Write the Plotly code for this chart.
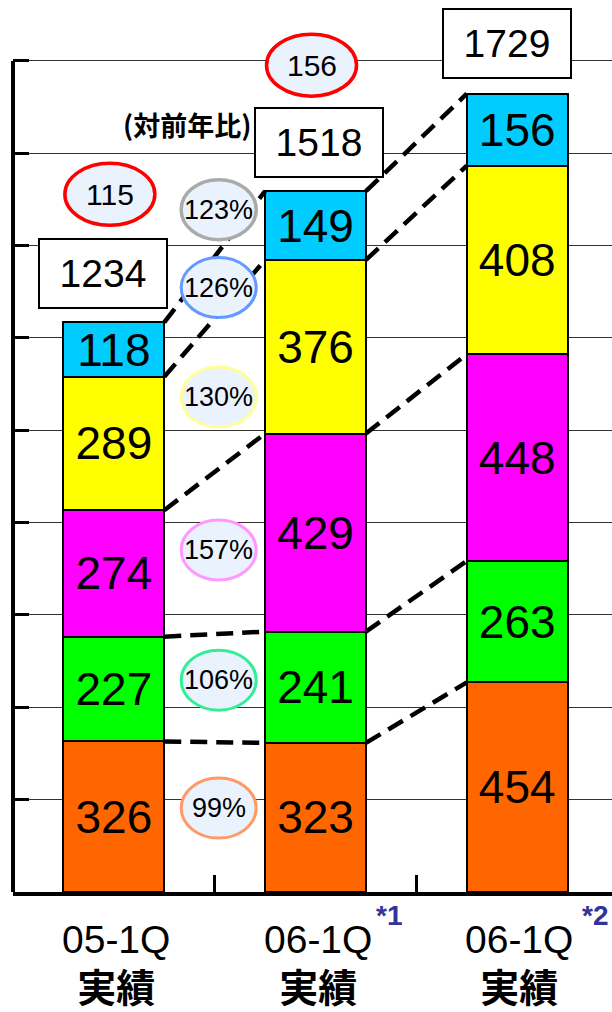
import plotly.graph_objects as go

# ---------------- data ----------------
categories = ["05-1Q", "06-1Q", "06-1Q"]
category_sub = ["実績", "実績", "実績"]
category_notes = ["", "*1", "*2"]

# segments, bottom -> top
orange = [326, 323, 454]
green = [227, 241, 263]
magenta = [274, 429, 448]
yellow = [289, 376, 408]
cyan = [118, 149, 156]
totals = [1234, 1518, 1729]

yoy_segment_pct = ["99%", "106%", "157%", "130%", "126%"]  # bottom -> top
yoy_total_pct = "123%"
red_marks = ["115", "156"]
yoy_title = "(対前年比)"

y_ticks = [0, 200, 400, 600, 800, 1000, 1200, 1400, 1600, 1800]

# ---------------- styles ----------------
segments = [orange, green, magenta, yellow, cyan]
seg_colors = ["#ff6600", "#00ff00", "#ff00ff", "#ffff00", "#00ccff"]
ring_colors = ["#ff9966", "#33ee99", "#ff99ff", "#ffff99", "#6699ff"]
total_ring_color = "#aaaaaa"
ring_fill = "#eaf3fd"
SANS = "Liberation Sans, Arial, sans-serif"
CJK = "Noto Sans CJK JP, sans-serif"

x = list(range(len(categories)))
BAR_W = 0.5

fig = go.Figure()

for vals, col in zip(segments, seg_colors):
    fig.add_trace(go.Bar(
        x=x, y=vals, width=BAR_W,
        marker=dict(color=col, line=dict(color="black", width=2)),
        text=[str(v) for v in vals], textposition="inside",
        insidetextanchor="middle",
        textfont=dict(family=SANS, size=46, color="black"),
        hoverinfo="skip", showlegend=False,
    ))

# cumulative boundaries
cum = []
run = [0] * len(x)
for vals in segments:
    run = [a + b for a, b in zip(run, vals)]
    cum.append(list(run))

# dashed connectors between adjacent bars
for level in cum:
    lx, ly = [], []
    for i in range(len(x) - 1):
        lx += [x[i] + BAR_W / 2, x[i + 1] - BAR_W / 2, None]
        ly += [level[i], level[i + 1], None]
    fig.add_trace(go.Scatter(
        x=lx, y=ly, mode="lines",
        line=dict(color="black", width=4.5, dash="17px,9px"),
        hoverinfo="skip", showlegend=False, cliponaxis=False,
    ))

shapes = []
annotations = []

# left axis line (up to top tick)
shapes.append(dict(type="line", xref="paper", yref="y", x0=0, x1=0,
                   y0=0, y1=y_ticks[-1], line=dict(color="black", width=4),
                   layer="above"))

# year-over-year ellipses between bar 0 and bar 1
mid_x = (x[0] + x[1]) / 2
ring_dy = [9, 8, 3, -2, 0]   # pixel nudges
RW, RH = 37.5, 30
PCT_FONT = dict(family=SANS, size=27, color="black")
for k in range(len(segments)):
    m0 = cum[k][0] - segments[k][0] / 2
    m1 = cum[k][1] - segments[k][1] / 2
    yc = (m0 + m1) / 2
    dy = ring_dy[k]
    shapes.append(dict(type="circle", xref="x", yref="y",
                       xsizemode="pixel", ysizemode="pixel",
                       xanchor=mid_x, yanchor=yc,
                       x0=4 - RW, x1=4 + RW, y0=dy - RH, y1=dy + RH,
                       fillcolor=ring_fill,
                       line=dict(color=ring_colors[k], width=3), layer="above"))
    annotations.append(dict(x=mid_x, y=yc, xref="x", yref="y", xshift=4, yshift=dy,
                            text=yoy_segment_pct[k], showarrow=False, font=PCT_FONT))
yc = (totals[0] + totals[1]) / 2
shapes.append(dict(type="circle", xref="x", yref="y",
                   xsizemode="pixel", ysizemode="pixel",
                   xanchor=mid_x, yanchor=yc,
                   x0=4 - RW, x1=4 + RW, y0=47 - RH, y1=47 + RH,
                   fillcolor=ring_fill,
                   line=dict(color=total_ring_color, width=3.5), layer="above"))
annotations.append(dict(x=mid_x, y=yc, xref="x", yref="y", xshift=4, yshift=47,
                        text=yoy_total_pct, showarrow=False, font=PCT_FONT))

# red ellipses above bars 0 and 1
red_dy = [128, 126]
for i, lab in enumerate(red_marks):
    shapes.append(dict(type="circle", xref="x", yref="y",
                       xsizemode="pixel", ysizemode="pixel",
                       xanchor=x[i], yanchor=totals[i],
                       x0=-4 - 45, x1=-4 + 45, y0=red_dy[i] - 31, y1=red_dy[i] + 31,
                       fillcolor=ring_fill,
                       line=dict(color="#ff0000", width=3.5), layer="above"))
    annotations.append(dict(x=x[i], y=totals[i], xref="x", yref="y",
                            xshift=-4, yshift=red_dy[i], text=lab, showarrow=False,
                            font=dict(family=SANS, size=30, color="black")))

# (対前年比) label (drawn before total boxes so the box covers it)
annotations.append(dict(x=0.362, y=1663, xref="x", yref="y", text="<b>" + yoy_title + "</b>",
                        showarrow=False, font=dict(family=CJK, size=27, color="black")))

# total boxes
box_dx = [-11, 3.5, -10.5]
box_dy = [13, 13, 15]
for i, t in enumerate(totals):
    annotations.append(dict(x=x[i], y=t, xref="x", yref="y", yanchor="bottom",
                            xshift=box_dx[i], yshift=box_dy[i], text=str(t),
                            showarrow=False, width=124, height=65,
                            bgcolor="white", bordercolor="black", borderwidth=2,
                            font=dict(family=SANS, size=39, color="black")))

# category labels (two lines in one text)
for i, c in enumerate(categories):
    label = (f"<span style='font-size:39px;font-family:Liberation Sans'>{c}</span><br>"
             f"<b><span style='font-size:39px;font-family:Noto Sans CJK JP'>{category_sub[i]}</span></b>")
    annotations.append(dict(x=x[i], y=0, xref="x", yref="paper", yanchor="top",
                            xshift=2, yshift=-24, text=label, showarrow=False,
                            font=dict(family=SANS, size=38, color="black")))
    if category_notes[i]:
        annotations.append(dict(x=x[i], y=0, xref="x", yref="paper", yanchor="middle",
                                xshift=73 if i == 1 else 78, yshift=-23,
                                text="<b>" + category_notes[i] + "</b>", showarrow=False,
                                font=dict(family=SANS, size=28, color="#333399")))

fig.update_layout(
    barmode="stack",
    width=612, height=1012,
    margin=dict(l=13, r=0, t=0, b=120),
    paper_bgcolor="white", plot_bgcolor="white",
    shapes=shapes, annotations=annotations,
    uniformtext=dict(minsize=46, mode="show"),
    xaxis=dict(range=[-0.5, 2.47], showgrid=False, zeroline=False,
               showline=True, linecolor="black", linewidth=4,
               tickvals=[0.5, 1.5], ticks="inside", ticklen=17, tickwidth=3,
               tickcolor="black", showticklabels=False, fixedrange=True),
    yaxis=dict(range=[0, 1932], tickvals=y_ticks, showgrid=True, gridcolor="#333333",
               gridwidth=1, zeroline=False, showline=False,
               ticks="inside", ticklen=16, tickwidth=3, tickcolor="black",
               showticklabels=False, fixedrange=True),
)

fig.write_html("out.html", config={"displayModeBar": False},
               post_script="document.body.style.margin='0px';")
